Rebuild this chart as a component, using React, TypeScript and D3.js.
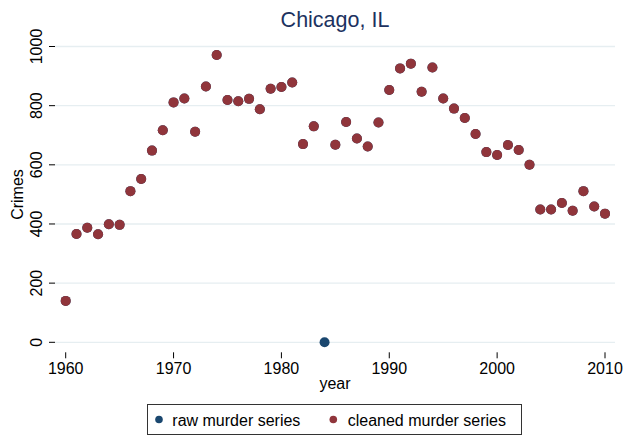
import React from "react";
import * as d3 from "d3";

const years: number[] = d3.range(1960, 2011);
// cleaned murder series (null = missing)
const cleaned: (number | null)[] = [
  140, 366, 387, 365, 399, 397, 511, 552, 648, 717,
  811, 824, 712, 865, 971, 819, 815, 823, 788, 857,
  863, 878, 670, 730, null, 668, 745, 689, 662, 743,
  853, 926, 942, 847, 929, 824, 790, 758, 704, 643,
  633, 667, 650, 600, 449, 449, 471, 445, 511, 459,
  435,
];
// raw murder series: identical except 1984 recorded as 0
const raw: (number | null)[] = cleaned.map((v, i) => (years[i] === 1984 ? 0 : v));

const yTicks: number[] = [0, 200, 400, 600, 800, 1000];
const xTicks: number[] = [1960, 1970, 1980, 1990, 2000, 2010];
const seriesNames: string[] = ["raw murder series", "cleaned murder series"];
const seriesColors: string[] = ["#1a476f", "#90353b"];

const W = 624;
const H = 436;
const FONT = "'Liberation Sans', Arial, Helvetica, sans-serif";

export default function App() {
  const x = d3.scaleLinear().domain([1960, 2010]).range([65.7, 605]);
  const y = d3.scaleLinear().domain([0, 1000]).range([342.3, 46.5]);
  const gridLeft = 55;
  const gridRight = 615;

  const pts = (arr: (number | null)[]) =>
    arr
      .map((v, i) => ({ yr: years[i], v }))
      .filter((d) => d.v !== null) as { yr: number; v: number }[];

  return (
    <svg
      width={W}
      height={H}
      style={{ position: "absolute", left: 0, top: 0, background: "#fff" }}
      fontFamily={FONT}
    >
      <rect x={0} y={0} width={W} height={H} fill="#ffffff" />
      {/* gridlines */}
      {yTicks.map((t) => (
        <line
          key={"g" + t}
          x1={gridLeft}
          x2={gridRight}
          y1={y(t)}
          y2={y(t)}
          stroke="#e6eef1"
          strokeWidth={1.3}
        />
      ))}
      {/* y ticks */}
      {yTicks.map((t) => (
        <g key={"yt" + t}>
          <line x1={49} x2={55} y1={y(t)} y2={y(t)} stroke="#000" strokeWidth={1} />
          <text
            transform={`translate(42,${y(t)}) rotate(-90)`}
            textAnchor="middle"
            fontSize={16}
            fill="#000"
          >
            {t}
          </text>
        </g>
      ))}
      {/* x ticks */}
      {xTicks.map((t) => (
        <g key={"xt" + t}>
          <line x1={x(t)} x2={x(t)} y1={352.3} y2={358.3} stroke="#000" strokeWidth={1} />
          <text x={x(t)} y={374} textAnchor="middle" fontSize={16} fill="#000">
            {t}
          </text>
        </g>
      ))}
      {/* axis titles */}
      <text x={335} y={389} textAnchor="middle" fontSize={16} fill="#000">
        year
      </text>
      <text
        transform={`translate(22.5,194.5) rotate(-90)`}
        textAnchor="middle"
        fontSize={16}
        fill="#000"
      >
        Crimes
      </text>
      {/* title */}
      <text x={335} y={27} textAnchor="middle" fontSize={21.5} fill="#1c3260">
        Chicago, IL
      </text>
      {/* series */}
      {pts(raw).map((d) => (
        <circle key={"r" + d.yr} cx={x(d.yr)} cy={y(d.v)} r={5} fill={seriesColors[0]} />
      ))}
      {pts(cleaned).map((d) => (
        <circle key={"c" + d.yr} cx={x(d.yr)} cy={y(d.v)} r={5} fill={seriesColors[1]} />
      ))}
      {/* legend */}
      <rect x={147.5} y={404.5} width={374} height={30} fill="#fff" stroke="#333" strokeWidth={1} />
      <circle cx={159} cy={419.5} r={3.8} fill={seriesColors[0]} />
      <text x={172.3} y={426.3} fontSize={16} fill="#000">
        {seriesNames[0]}
      </text>
      <circle cx={333.3} cy={419.5} r={3.8} fill={seriesColors[1]} />
      <text x={347.7} y={426.3} fontSize={16} fill="#000">
        {seriesNames[1]}
      </text>
    </svg>
  );
}
